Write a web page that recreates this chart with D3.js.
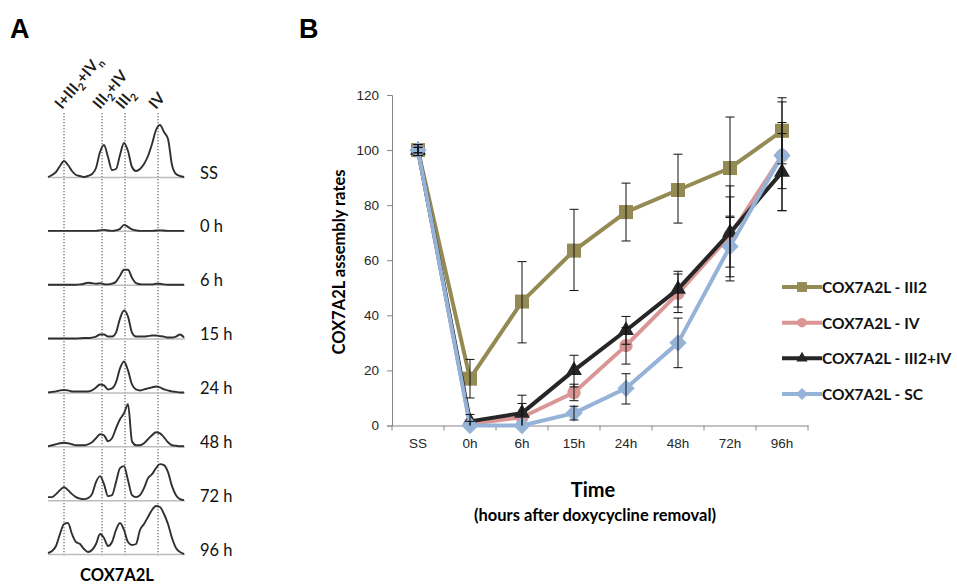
<!DOCTYPE html>
<html>
<head>
<meta charset="utf-8">
<script src="https://cdn.jsdelivr.net/npm/d3@7"></script>
<style>
  body { margin: 0; background: #fff; }
  svg { display: block; }
</style>
</head>
<body>
<div id="chart"></div>
<script>
const width = 957;
const height = 586;

// ---- panel A : densitometry profiles ----
const laneRows = ["SS", "0 h", "6 h", "15 h", "24 h", "48 h", "72 h", "96 h"];
const lanePos = [0,4,8,12,16,20,24,28,32,36,40,44,48,52,56,60,64,68,72,76,80,84,88,92,96,100,104,108,112,116,120,124,128,132,136];
const profSS  = [0,2,5,11,16,12,6,2,1,0,1,3,9,25,32,20,7,8,22,34,26,10,6,8,13,21,33,47,52,45,38,12,3,1,0];
const prof0h  = [0,0,0,0,0,0,0,0,0,0,0,0,0,0.5,1,0.3,0,0.5,2,6,4,1.5,0.5,0,0,0,0,0.3,0.5,0.3,0,0,0,0,0];
const prof6h  = [0,0,0,0,0,0,0,0,0.3,1,2,1.5,1,1.5,0.5,0.3,1,3,9,15,15,7,1.5,0.5,0.3,0.3,0.3,1,1,0.3,0,0,0,0,0];
const prof15h = [0,0,0,0,0,0,0,0,0.3,0.5,0.5,1,2,4,4,2,2,6,20,28,22,6,2,2,2,2.5,3,3,2.5,2,1,1,2,4,1];
const prof24h = [0,0.5,1,2,2.5,2,1,1,1,1,1,2,5,8,7,3,4,10,24,31,22,8,3,2,3,4,5,6,5,3,2,1,0.5,0,0];
const prof48h = [0,1,2,3,3.5,3,2,1,1,1,2,4,8,12,11,5,8,18,27,33,42,5,1,1,3,7,11,14,13,9,4,1,0.5,0,0];
const prof72h = [3,3,6,10,13,10,6,3,1.5,1,2,6,18,24,16,4,5,18,32,34,20,5,3,5,12,22,26,32,36,35,28,14,5,1,0];
const prof96h = [1,3,8,20,30,31,20,12,10,5,2,4,10,20,16,8,12,24,31,24,12,9,10,24,30,37,44,48,47,40,30,16,6,2,0];
const profiles = [profSS, prof0h, prof6h, prof15h, prof24h, prof48h, prof72h, prof96h];
const bandPos = [16, 54, 77, 110];

// ---- panel B : assembly rates ----
const timepoints = ["SS", "0h", "6h", "15h", "24h", "48h", "72h", "96h"];
const iii2Mean = [100, 17, 45, 63.5, 77.5, 85.5, 93.5, 107];
const iii2Low  = [98, 10, 30, 49, 67, 73.5, 75.5, 95];
const iii2High = [102, 24, 59.5, 78.5, 88, 98.5, 112, 119];
const ivMean = [100, 0.5, 3, 12, 29, 48, 69, 98];
const ivLow  = [99, 0, 0, 9, 22.3, 41, 52.5, 78];
const ivHigh = [101, 1.5, 8, 15, 35.5, 55, 87, 117.5];
const combMean = [100, 1.5, 4.5, 20, 34.5, 49.5, 70, 92];
const combLow  = [98, 0, 0, 14, 29.5, 43, 57.5, 78];
const combHigh = [102, 4, 11, 25.5, 39.6, 56, 83, 106];
const scMean = [100, 0, 0, 4.5, 13.5, 30, 65, 98];
const scLow  = [99, 0, 0, 2, 7.8, 21, 54, 86];
const scHigh = [101, 0, 0, 7, 18.8, 39, 76, 110];
const seriesNames = ["COX7A2L - III2", "COX7A2L - IV", "COX7A2L - III2+IV", "COX7A2L - SC"];

const svg = d3.select("#chart").append("svg")
    .attr("width", width)
    .attr("height", height)
    .style("font-family", "Lato, 'Open Sans', sans-serif");

// panel letters
svg.append("text").attr("x", 10).attr("y", 38).text("A")
    .style("font-family", "'Liberation Sans', Arial, sans-serif")
    .style("font-size", "27px").style("font-weight", "bold");
svg.append("text").attr("x", 299).attr("y", 38).text("B")
    .style("font-family", "'Liberation Sans', Arial, sans-serif")
    .style("font-size", "27px").style("font-weight", "bold");

// ================= Panel A =================
const xA = d3.scaleLinear().domain([0, 136]).range([48, 184]);
const rowY = d3.scalePoint().domain(laneRows).range([177, 554]);
const hA = d3.scaleLinear().domain([0, 60]).range([0, 60]);

const gA = svg.append("g");

// dotted guide lines
gA.selectAll("line.guide")
    .data(bandPos)
    .join("line")
    .attr("class", "guide")
    .attr("x1", d => xA(d)).attr("x2", d => xA(d))
    .attr("y1", 113).attr("y2", 557)
    .attr("stroke", "#444")
    .attr("stroke-width", 1)
    .attr("stroke-dasharray", "1.3,1.7");

const traceLine = d3.line()
    .curve(d3.curveMonotoneX);

laneRows.forEach((row, i) => {
    const base = rowY(row);
    gA.append("line")
        .attr("x1", xA(0)).attr("x2", xA(137))
        .attr("y1", base + 0.5).attr("y2", base + 0.5)
        .attr("stroke", "#bdbdbd").attr("stroke-width", 1.5);
    const pts = lanePos.map((p, j) => [xA(p), base - hA(profiles[i][j])]);
    gA.append("path")
        .attr("d", traceLine(pts))
        .attr("fill", "none")
        .attr("stroke", "#303030")
        .attr("stroke-width", 1.9)
        .attr("stroke-linejoin", "round");
    gA.append("text")
        .attr("x", 200).attr("y", base + 1.5)
        .text(row)
        .style("font-size", "16.5px")
        .style("fill", "#111");
});

// rotated column labels (with subscripts)
const colLabels = [
    [{t: "I+III"}, {t: "2", sub: true}, {t: "+IV"}, {t: "n", sub: true}],
    [{t: "III"}, {t: "2", sub: true}, {t: "+IV"}],
    [{t: "III"}, {t: "2", sub: true}],
    [{t: "IV"}]
];
colLabels.forEach((parts, i) => {
    const tx = xA(bandPos[i]) - 2;
    const t = gA.append("text")
        .attr("transform", `translate(${tx},110) rotate(-50)`)
        .style("font-size", "15.5px")
        .style("font-weight", "bold")
        .style("fill", "#1a1a1a");
    let shifted = false;
    parts.forEach(p => {
        const s = t.append("tspan").text(p.t);
        if (p.sub && !shifted) { s.attr("dy", 4).style("font-size", "10.5px"); shifted = true; }
        else if (!p.sub && shifted) { s.attr("dy", -4); shifted = false; }
    });
});

gA.append("text")
    .attr("x", 117).attr("y", 581)
    .attr("text-anchor", "middle")
    .text("COX7A2L")
    .style("font-size", "16.5px")
    .style("font-weight", "bold");

// ================= Panel B =================
const x = d3.scaleBand().domain(timepoints).range([392, 808]);
const y = d3.scaleLinear().domain([0, 120]).range([425.5, 95]);
const cx = d => x(d) + x.bandwidth() / 2;

const series = [
    {name: seriesNames[0], mean: iii2Mean, lo: iii2Low, hi: iii2High, color: "#948A54", symbol: d3.symbolSquare, size: 196, rot: 0},
    {name: seriesNames[1], mean: ivMean, lo: ivLow, hi: ivHigh, color: "#DA9694", symbol: d3.symbolCircle, size: 140, rot: 0},
    {name: seriesNames[2], mean: combMean, lo: combLow, hi: combHigh, color: "#262626", symbol: d3.symbolTriangle, size: 110, rot: 0},
    {name: seriesNames[3], mean: scMean, lo: scLow, hi: scHigh, color: "#95B3D7", symbol: d3.symbolSquare, size: 150, rot: 45}
];

const gB = svg.append("g");

// axes
const yAxis = d3.axisLeft(y)
    .tickValues([0, 20, 40, 60, 80, 100, 120])
    .tickSize(5)
    .tickPadding(8);
const yg = gB.append("g").attr("transform", "translate(392,0)").call(yAxis);

const xAxis = d3.axisBottom(x).tickSize(0).tickPadding(13);
const xg = gB.append("g").attr("transform", "translate(0,425.5)").call(xAxis);
xg.selectAll(".tick line").remove();
xg.selectAll("line.sep")
    .data(timepoints.concat(["end"]))
    .join("line")
    .attr("class", "sep")
    .attr("x1", (d, i) => i < timepoints.length ? x(d) : x.range()[1])
    .attr("x2", (d, i) => i < timepoints.length ? x(d) : x.range()[1])
    .attr("y1", 0).attr("y2", 5)
    .attr("stroke", "#868686");

[yg, xg].forEach(g => {
    g.select(".domain").attr("stroke", "#868686");
    g.selectAll(".tick line").attr("stroke", "#868686");
    g.selectAll("text")
        .style("font-family", "'Liberation Sans', Arial, sans-serif")
        .style("font-size", "13.5px")
        .style("fill", "#262626");
});

// series lines and markers
const line = d3.line()
    .x((d, i) => cx(timepoints[i]))
    .y(d => y(d));

series.forEach(s => {
    gB.append("path")
        .attr("d", line(s.mean))
        .attr("fill", "none")
        .attr("stroke", s.color)
        .attr("stroke-width", 4)
        .attr("stroke-linejoin", "round");
    gB.selectAll(null)
        .data(s.mean)
        .join("path")
        .attr("transform", (d, i) => `translate(${cx(timepoints[i])},${y(d)}) rotate(${s.rot})`)
        .attr("d", d3.symbol().type(s.symbol).size(s.size))
        .attr("fill", s.color);
});

// error bars on top
series.forEach(s => {
    s.mean.forEach((m, i) => {
        const lo = Math.max(0, s.lo[i]);
        const hi = s.hi[i];
        if (hi - lo < 0.5) return;
        const xc = cx(timepoints[i]);
        const eb = gB.append("g").attr("stroke", "#111").attr("stroke-width", 1);
        eb.append("line").attr("x1", xc).attr("x2", xc).attr("y1", y(lo)).attr("y2", y(hi));
        eb.append("line").attr("x1", xc - 4.5).attr("x2", xc + 4.5).attr("y1", y(hi)).attr("y2", y(hi));
        if (s.lo[i] > 0) {
            eb.append("line").attr("x1", xc - 4.5).attr("x2", xc + 4.5).attr("y1", y(lo)).attr("y2", y(lo));
        }
    });
});

// axis titles
gB.append("text")
    .attr("transform", "translate(345,262) rotate(-90)")
    .attr("text-anchor", "middle")
    .text("COX7A2L assembly rates")
    .style("font-size", "16.5px")
    .style("font-weight", "bold");
gB.append("text")
    .attr("x", 593).attr("y", 497)
    .attr("text-anchor", "middle")
    .text("Time")
    .style("font-size", "20px")
    .style("font-weight", "bold");
gB.append("text")
    .attr("x", 595).attr("y", 521)
    .attr("text-anchor", "middle")
    .text("(hours after doxycycline removal)")
    .style("font-size", "16.5px")
    .style("font-weight", "bold");

// legend
const legendY = d3.scalePoint().domain(seriesNames).range([287, 394]);
const lg = gB.append("g");
series.forEach(s => {
    const ly = legendY(s.name);
    lg.append("line")
        .attr("x1", 782).attr("x2", 822)
        .attr("y1", ly).attr("y2", ly)
        .attr("stroke", s.color).attr("stroke-width", 4);
    lg.append("path")
        .attr("transform", `translate(802,${ly}) rotate(${s.rot})`)
        .attr("d", d3.symbol().type(s.symbol).size(s.size * 0.5))
        .attr("fill", s.color);
    lg.append("text")
        .attr("x", 822).attr("y", ly + 6)
        .text(s.name)
        .style("font-size", "15.5px")
        .style("font-weight", "bold")
        .style("fill", "#111");
});
</script>
</body>
</html>
